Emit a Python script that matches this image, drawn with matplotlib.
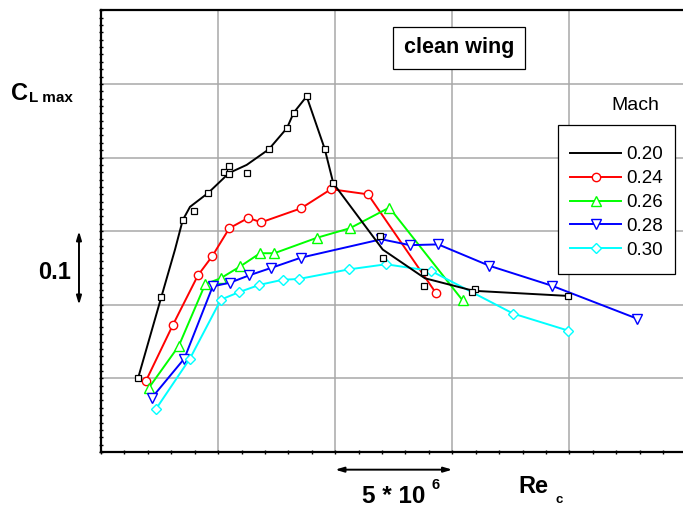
import numpy as np
import matplotlib
matplotlib.use("Agg")
import matplotlib.pyplot as plt
from matplotlib.patches import Rectangle
from matplotlib.ticker import MultipleLocator

plt.rcParams['font.family'] = ['Liberation Sans', 'DejaVu Sans']

## Re_c in millions, CL_max offset (grid step 0.1)
# Mach 0.20: faired curve + measured points
re_020_line = [1.58, 2.58, 3.16, 3.49, 3.80, 4.58, 5.47, 6.22, 7.16, 7.94, 8.23, 8.78,
               9.55, 9.92, 12.03, 13.83, 15.90, 19.95]
cl_020_line = [0.100, 0.211, 0.275, 0.315, 0.333, 0.352, 0.379, 0.390, 0.411, 0.440, 0.461, 0.483,
               0.412, 0.365, 0.275, 0.236, 0.219, 0.212]
re_020_pts = [1.58, 2.58, 3.49, 3.97, 4.58, 5.25, 5.47, 5.47, 6.23, 7.16, 7.94, 8.23, 8.78,
              9.55, 9.92, 11.91, 12.03, 13.80, 13.80, 15.97, 15.83, 19.95]
cl_020_pts = [0.101, 0.211, 0.315, 0.328, 0.352, 0.381, 0.388, 0.378, 0.379, 0.411, 0.440, 0.461, 0.483,
              0.412, 0.365, 0.294, 0.263, 0.245, 0.226, 0.222, 0.217, 0.212]

re_024 = [1.91, 3.06, 4.14, 4.75, 5.48, 6.29, 6.84, 8.54, 9.82, 11.40, 14.30]
cl_024 = [0.096, 0.172, 0.240, 0.266, 0.304, 0.318, 0.312, 0.331, 0.357, 0.350, 0.216]

re_026 = [2.04, 3.32, 4.45, 5.11, 5.94, 6.79, 7.40, 9.22, 10.63, 12.31, 15.44]
cl_026 = [0.087, 0.144, 0.228, 0.236, 0.252, 0.270, 0.270, 0.291, 0.304, 0.332, 0.206]

re_028 = [2.18, 3.56, 4.77, 5.51, 6.33, 7.26, 8.54, 11.97, 13.19, 14.40, 16.58, 19.24, 22.90]
cl_028 = [0.074, 0.127, 0.225, 0.230, 0.240, 0.250, 0.264, 0.289, 0.281, 0.282, 0.253, 0.226, 0.181]

re_030 = [2.34, 3.80, 5.12, 5.88, 6.76, 7.76, 8.44, 10.57, 12.17, 14.09, 17.60, 19.94]
cl_030 = [0.058, 0.127, 0.207, 0.217, 0.227, 0.234, 0.235, 0.248, 0.255, 0.246, 0.188, 0.165]

W, H = 683, 508
fig = plt.figure(figsize=(W / 100, H / 100), dpi=100)
ax = fig.add_axes([101 / W, 56 / H, 585.5 / W, 441.7 / H])

ax.plot(re_020_line, cl_020_line, color='black', lw=1.4, label='0.20', zorder=5)
ax.plot(re_020_pts, cl_020_pts, ls='none', marker='s', ms=4.8, mfc='white', mec='black',
        mew=0.9, zorder=6)
ax.plot(re_024, cl_024, color='#ff0000', lw=1.4, marker='o', ms=6, mfc='white', mec='#ff0000',
        mew=1.0, label='0.24')
ax.plot(re_026, cl_026, color='#00ff00', lw=1.4, marker='^', ms=6.5, mfc='white', mec='#00ff00',
        mew=1.0, label='0.26')
ax.plot(re_028, cl_028, color='#0000ff', lw=1.4, marker='v', ms=6.5, mfc='white', mec='#0000ff',
        mew=1.0, label='0.28')
ax.plot(re_030, cl_030, color='#00ffff', lw=1.4, marker='D', ms=5.5, mfc='white', mec='#00ffff',
        mew=1.0, label='0.30')

ax.set_xlim(0, 25)
ax.set_ylim(0, 0.6)
ax.xaxis.set_major_locator(MultipleLocator(5))
ax.xaxis.set_minor_locator(MultipleLocator(1))
ax.yaxis.set_major_locator(MultipleLocator(0.1))
ax.yaxis.set_minor_locator(MultipleLocator(0.01))
ax.tick_params(which='both', direction='inout', length=3.5, width=1.0,
               labelbottom=False, labelleft=False)
ax.grid(True, which='major', color='#a8a8a8', lw=1.1)
ax.set_axisbelow(True)
ax.spines['right'].set_visible(False)
for side in ('left', 'top', 'bottom'):
    ax.spines[side].set_linewidth(1.6)

# scale arrows
ax.annotate('', xy=(-0.94, 0.3), xytext=(-0.94, 0.2), annotation_clip=False,
            arrowprops=dict(arrowstyle='<|-|>,head_length=0.5,head_width=0.15', color='black', lw=1.4,
                            shrinkA=0, shrinkB=0))
ax.annotate('', xy=(10, -0.024), xytext=(15, -0.024), annotation_clip=False,
            arrowprops=dict(arrowstyle='<|-|>,head_length=0.5,head_width=0.15', color='black', lw=1.4,
                            shrinkA=0, shrinkB=0))

# legend box drawn separately, entries placed inside without their own frame
fig.add_artist(Rectangle((558.3 / W, 1 - 274.3 / H), (675 - 558.3) / W, (274.3 - 125) / H,
                         transform=fig.transFigure, fc='white', ec='black', lw=0.9, zorder=4))
handles, labels = ax.get_legend_handles_labels()
fig.legend(handles, labels, loc='upper left', bbox_to_anchor=(570 / W, 1 - 146.3 / H),
           borderaxespad=0, borderpad=0, fontsize=13.5, numpoints=1, handlelength=2.72,
           handletextpad=0.3, labelspacing=0.36, frameon=False)


def ftext(x, y, s, **kw):
    fig.text(x / W, 1 - y / H, s, ha='left', va='baseline', **kw)


ftext(611.7, 110, 'Mach', fontsize=14)
ftext(11, 100, 'C', fontsize=17, fontweight='bold')
ftext(29, 101.7, 'L max', fontsize=11, fontweight='bold')
ftext(37.7, 279, '0.1', fontsize=17, fontweight='bold')
ftext(361.7, 503, '5 * 10', fontsize=17.5, fontweight='bold')
ftext(431.7, 489, '6', fontsize=10.5, fontweight='bold')
ftext(518.3, 493.3, 'Re', fontsize=17, fontweight='bold')
ftext(555, 503.3, 'c', fontsize=9.5, fontweight='bold')

fig.text(458.7 / W, 1 - 48 / H, 'clean wing', ha='center', va='center', fontsize=15.5,
         fontweight='bold',
         bbox=dict(boxstyle='square,pad=0.5', fc='white', ec='black', lw=0.9))

fig.savefig('out.png', dpi=100)
